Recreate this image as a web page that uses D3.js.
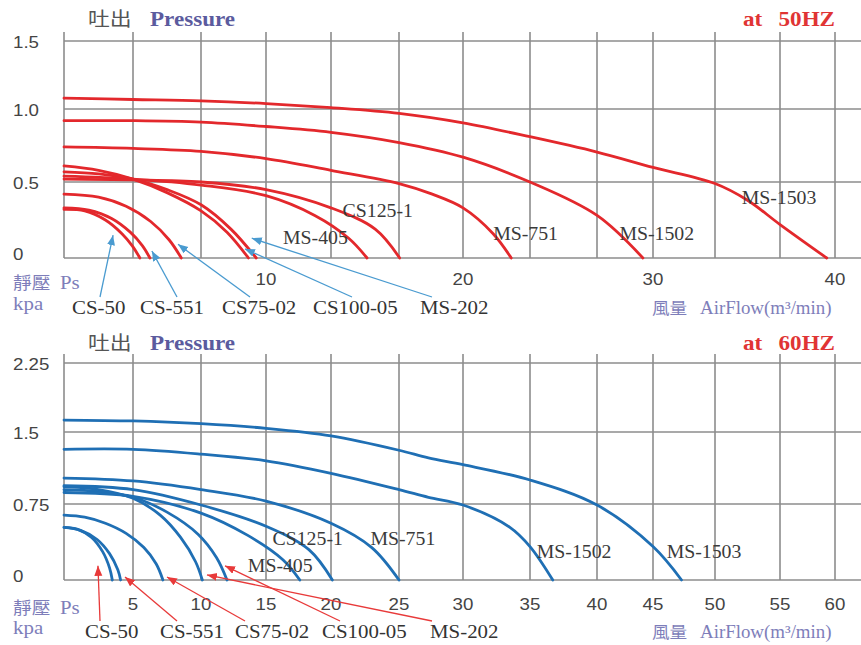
<!DOCTYPE html>
<html><head><meta charset="utf-8">
<script src="https://cdn.jsdelivr.net/npm/d3@7"></script>
<style>body{margin:0;background:#fff}svg{display:block}</style>
</head><body><svg id="c" width="861" height="645"></svg>
<script>
// ---------- data ----------
const models = ["CS-50","CS-551","CS75-02","CS100-05","MS-202","MS-405","CS125-1","MS-751","MS-1502","MS-1503"];

// 50 Hz curves: [airflow m3/min, static pressure kPa]
const cs50_50    = [[0,0.32],[1,0.31],[2,0.25],[2.8,0.16],[3.3,0.08],[3.67,0]];
const cs551_50   = [[0,0.33],[1.2,0.315],[2.3,0.26],[3.2,0.17],[3.8,0.08],[4.16,0]];
const cs7502_50  = [[0,0.42],[1.67,0.40],[3,0.34],[4.2,0.24],[5.1,0.12],[5.7,0]];
const cs10005_50 = [[0,0.61],[1.67,0.58],[3.33,0.52],[5,0.43],[6.67,0.31],[8,0.17],[9.1,0]];
const ms202_50   = [[0,0.57],[1.67,0.555],[3.33,0.52],[5,0.45],[6.67,0.35],[8.2,0.19],[9.5,0]];
const ms405_50   = [[0,0.54],[3.33,0.52],[6.67,0.48],[10,0.41],[12.5,0.28],[14.2,0.13],[15.1,0]];
const cs1251_50  = [[0,0.52],[3.33,0.515],[6.67,0.50],[10,0.45],[13.33,0.33],[15.5,0.19],[16.7,0]];
const ms751_50   = [[0,0.74],[3.33,0.73],[6.67,0.71],[10,0.66],[13.33,0.58],[16.67,0.49],[18.4,0.42],[20,0.33],[21.5,0.16],[22.4,0]];
const ms1502_50  = [[0,0.92],[3.33,0.92],[6.67,0.91],[10,0.88],[13.33,0.84],[16.67,0.77],[20,0.67],[23.33,0.50],[26.67,0.28],[29.4,0]];
const ms1503_50  = [[0,1.08],[3.33,1.07],[6.67,1.06],[10,1.04],[13.33,1.01],[16.67,0.97],[20,0.905],[23.33,0.81],[26.67,0.705],[30,0.60],[33.33,0.49],[35,0.38],[36.67,0.22],[39.5,0]];

// 60 Hz curves
const cs50_60    = [[0,0.52],[1,0.50],[2,0.42],[2.8,0.28],[3.3,0.12],[3.5,0]];
const cs551_60   = [[0,0.52],[1.2,0.49],[2.4,0.40],[3.3,0.26],[3.9,0.10],[4.1,0]];
const cs7502_60  = [[0,0.64],[1.5,0.62],[3,0.56],[4.5,0.46],[5.8,0.32],[6.7,0.16],[7.2,0]];
const cs10005_60 = [[0,0.93],[2.5,0.90],[5,0.81],[7,0.64],[8.5,0.42],[9.6,0.18],[10.1,0]];
const ms202_60   = [[0,0.90],[2.5,0.88],[5,0.82],[7.5,0.67],[9.8,0.45],[11.2,0.22],[12.0,0]];
const ms405_60   = [[0,0.87],[5,0.83],[10,0.66],[13.6,0.44],[16.3,0.2],[17.6,0]];
const cs1251_60  = [[0,0.94],[5,0.90],[10,0.74],[15,0.53],[18.3,0.30],[20.1,0]];
const ms751_60   = [[0,1.02],[5,0.99],[10,0.90],[15,0.78],[20,0.56],[23,0.32],[25,0]];
const ms1502_60  = [[0,1.32],[5,1.32],[10,1.27],[15,1.20],[20,1.07],[25,0.90],[27.3,0.82],[30,0.74],[33.5,0.52],[35,0.33],[36.7,0]];
const ms1503_60  = [[0,1.63],[5,1.62],[10,1.59],[15,1.54],[20,1.46],[25,1.31],[27.3,1.23],[30,1.16],[35,1.00],[40,0.74],[45,0.33],[47.3,0]];

const series50 = [cs50_50, cs551_50, cs7502_50, cs10005_50, ms202_50, ms405_50, cs1251_50, ms751_50, ms1502_50, ms1503_50];
const series60 = [cs50_60, cs551_60, cs7502_60, cs10005_60, ms202_60, ms405_60, cs1251_60, ms751_60, ms1502_60, ms1503_60];

// axis ticks
const yTicks50 = [0, 0.5, 1.0, 1.5];
const yTickLabels50 = ["0", "0.5", "1.0", "1.5"];
const yTicks60 = [0, 0.75, 1.5, 2.25];
const yTickLabels60 = ["0", "0.75", "1.5", "2.25"];
const xGrid50 = d3.range(13).map(i => i * 40 / 12);
const xLabels50 = [10, 20, 30, 40];
const xGrid60 = d3.range(13).map(i => i * 5);
const xLabels60 = [5, 10, 15, 20, 25, 30, 35, 40, 45, 50, 55, 60];

// in-plot curve labels (data coordinates)
const inLabelNames = ["CS125-1", "MS-405", "MS-751", "MS-1502", "MS-1503"];
const inLabelPos50 = [[13.9,0.27],[10.87,0.092],[21.5,0.118],[28.0,0.118],[34.7,0.355]];
const inLabelPos60 = [[15.5,0.345],[13.6,0.079],[22.9,0.345],[35.5,0.217],[46.1,0.217]];

// arrow labels (small models) and arrow tips in data coordinates
const arrowNames = ["CS-50", "CS-551", "CS75-02", "CS100-05", "MS-202"];
const arrowTip50 = [[2.37,0.15],[4.26,0.046],[5.54,0.09],[8.92,0.06],[9.27,0.13]];
const arrowTip60 = [[2.46,0.14],[4.42,0.03],[7.5,0.03],[11.85,0.14],[10.46,0.05]];

// ---------- layout ----------
const svg = d3.select("#c");
svg.append("rect").attr("width", 861).attr("height", 645).attr("fill", "#fff");
const gridPx = [64,133,201,266,331,399,463,530,597,653,715,780,835];
const STRETCH = 1.1;

const defs = svg.append("defs");
function marker(id, color) {
  defs.append("marker").attr("id", id).attr("markerUnits", "userSpaceOnUse")
    .attr("markerWidth", 12).attr("markerHeight", 10).attr("refX", 10).attr("refY", 4)
    .attr("orient", "auto")
    .append("path").attr("d", "M0,0 L10,4 L0,8 Z").attr("fill", color);
}
marker("arrBlue", "#4a9bd0");
marker("arrRed", "#e83a3a");

function sText(g, x, y, txt, opts) {
  return g.append("text")
    .attr("transform", `translate(${x},${y}) scale(${opts.stretch || STRETCH},1)`)
    .attr("text-anchor", opts.anchor || "start")
    .attr("font-family", opts.family || "'Liberation Serif', 'Times New Roman', serif")
    .attr("font-size", opts.size || 18)
    .attr("font-weight", opts.weight || "normal")
    .attr("fill", opts.fill || "#333")
    .text(txt);
}

function drawPanel(cfg) {
  const g = svg.append("g");
  const x = d3.scaleLinear().domain(cfg.xGrid).range(gridPx);
  const y = d3.scaleLinear().domain(cfg.yTicks).range(cfg.yRange);
  const top = y(cfg.yTicks[cfg.yTicks.length - 1]);
  const bottom = y(0);

  // grid
  g.append("g").selectAll("line").data(cfg.yTicks).join("line")
    .attr("x1", x(0)).attr("x2", 861).attr("y1", d => y(d)).attr("y2", d => y(d))
    .attr("stroke", "#8c8c8c").attr("stroke-width", 1.6);
  g.append("g").selectAll("line").data(cfg.xGrid).join("line")
    .attr("x1", d => x(d)).attr("x2", d => x(d)).attr("y1", top - 9).attr("y2", bottom)
    .attr("stroke", "#8c8c8c").attr("stroke-width", 1.6);

  // y tick labels
  cfg.yTicks.forEach((v, i) => {
    const yy = v === 0 ? bottom - 4 : y(v) + 1;
    sText(g, 13, yy + 6, cfg.yTickLabels[i], {family: "'Liberation Sans', Arial, sans-serif", size: 17, fill: "#444"});
  });
  // x tick labels
  cfg.xLabels.forEach(v => {
    sText(g, x(v), cfg.xLabelY, String(v), {family: "'Liberation Sans', Arial, sans-serif", size: 17, fill: "#444", anchor: "middle"});
  });

  // curves
  const line = d3.line().x(d => x(d[0])).y(d => y(d[1])).curve(d3.curveCatmullRom.alpha(0.5));
  g.append("g").selectAll("path").data(cfg.series).join("path")
    .attr("d", line).attr("fill", "none").attr("stroke", cfg.color)
    .attr("stroke-width", 2.8).attr("stroke-linecap", "round");

  // in-plot labels
  inLabelNames.forEach((n, i) => {
    const p = cfg.inLabelPos[i];
    sText(g, x(p[0]), y(p[1]), n, {size: 18, fill: "#3a3a3a"});
  });

  // title
  sText(g, 88, cfg.titleY, "吐出", {family: "'Noto Sans CJK TC', sans-serif", size: 19, fill: "#555", stretch: 1.15});
  sText(g, 150, cfg.titleY, "Pressure", {size: 21, weight: "bold", fill: "#5b5b9e"});
  sText(g, 743, cfg.titleY, "at", {size: 21, weight: "bold", fill: "#e03434"});
  sText(g, 835, cfg.titleY, cfg.hz, {size: 21, weight: "bold", fill: "#e03434", anchor: "end"});

  // axis titles
  sText(g, 13, cfg.xLabelY + 4, "靜壓", {family: "'Noto Sans CJK TC', sans-serif", size: 17, fill: "#7e7eba", stretch: 1.1});
  sText(g, 60, cfg.xLabelY + 4, "Ps", {size: 19, fill: "#7e7eba"});
  sText(g, 13, cfg.rowY - 4, "kpa", {size: 19, fill: "#7e7eba"});
  sText(g, 652, cfg.rowY, "風量", {family: "'Noto Sans CJK TC', sans-serif", size: 16, fill: "#7e7eba", stretch: 1.1});
  sText(g, 700, cfg.rowY, "AirFlow(m³/min)", {size: 18, fill: "#7e7eba", stretch: 1.05});

  // arrow labels + arrows
  arrowNames.forEach((n, i) => {
    sText(g, cfg.rowX[i], cfg.rowY, n, {size: 19, fill: "#333"});
    const tip = cfg.arrowTips[i];
    g.append("line")
      .attr("x1", cfg.tailX[i]).attr("y1", cfg.rowY - 17)
      .attr("x2", x(tip[0])).attr("y2", y(tip[1]))
      .attr("stroke", cfg.arrowColor).attr("stroke-width", 1.3)
      .attr("marker-end", `url(#${cfg.marker})`);
  });
}

drawPanel({
  xGrid: xGrid50, xLabels: xLabels50, yTicks: yTicks50, yTickLabels: yTickLabels50,
  yRange: [258, 182, 109, 41], series: series50, color: "#e3282c",
  inLabelPos: inLabelPos50, arrowTips: arrowTip50, arrowColor: "#4a9bd0", marker: "arrBlue",
  titleY: 26, hz: "50HZ", xLabelY: 285, rowY: 314,
  rowX: [72, 140, 222, 313, 420], tailX: [100, 177, 250, 352, 432]
});
drawPanel({
  xGrid: xGrid60, xLabels: xLabels60, yTicks: yTicks60, yTickLabels: yTickLabels60,
  yRange: [580, 504, 432, 363], series: series60, color: "#1f6fb4",
  inLabelPos: inLabelPos60, arrowTips: arrowTip60, arrowColor: "#e83a3a", marker: "arrRed",
  titleY: 350, hz: "60HZ", xLabelY: 610, rowY: 638,
  rowX: [85, 160, 235, 322, 430], tailX: [100, 177, 245, 340, 432]
});
</script>
</body></html>
